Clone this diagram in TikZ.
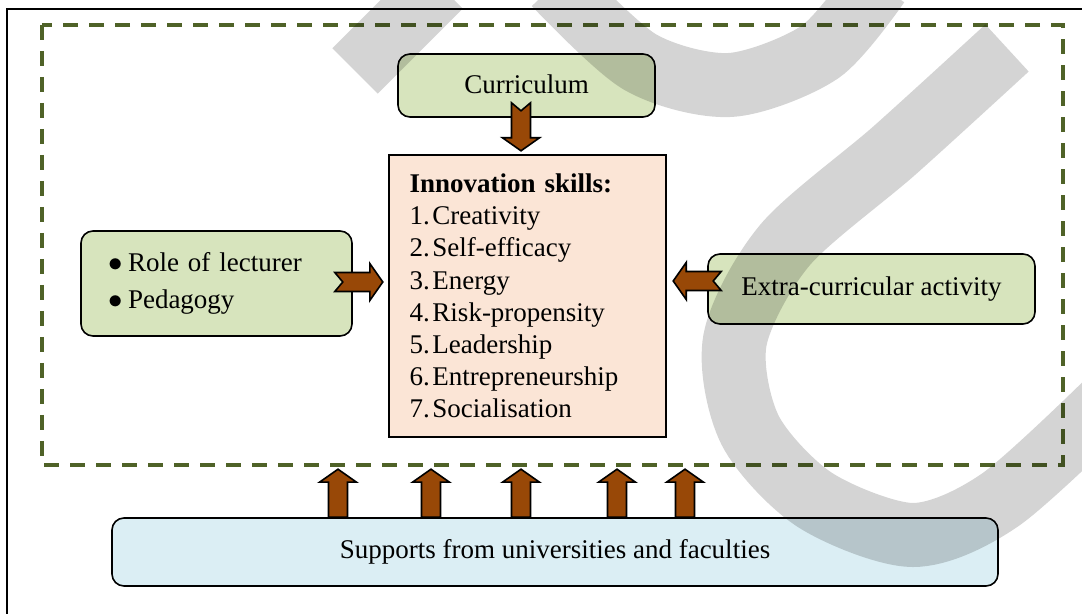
\documentclass[tikz,border=0pt]{standalone}
\usepackage{fontspec}
\setmainfont{Liberation Serif}
\usetikzlibrary{calc,positioning}

\definecolor{boxgreen}{HTML}{D7E4BD}
\definecolor{boxpeach}{HTML}{FBE5D6}
\definecolor{boxblue}{HTML}{DBEEF4}
\definecolor{arrowbrown}{HTML}{984807}
\definecolor{olivedash}{HTML}{4F6228}

% block arrow: [notch depth]{tail point}{direction}
\newcommand{\fatarrow}[3][8]{%
	\draw[fatarrow,shift={#2},rotate=#3]
	(0,-9.5) -- (35,-9.5) -- (35,-18.5) -- (48,0) -- (35,18.5) -- (35,9.5) -- (0,9.5) -- (#1,0) -- cycle;
}

\begin{document}
\begin{tikzpicture}
	[x=0.5pt,y=-0.5pt,font=\fontsize{13.5}{16.1}\selectfont,
	softbox/.style={draw,line width=0.8pt,rounded corners=6pt,fill=boxgreen,inner sep=0pt},
	fatarrow/.style={draw=black,line width=0.8pt,fill=arrowbrown,line join=miter}]
	\useasboundingbox (0,0) rectangle (1082,614);
	\clip (0,0) rectangle (1082,614);
	
	\draw[line width=0.6pt] (7,9) rectangle (1120,650);
	\draw[olivedash,line width=2pt,dash pattern=on 7.5pt off 5.5pt] (42,25) rectangle (1063,465);
	
	\node[softbox,minimum width=128.5pt,minimum height=31.5pt] (curr) at (526.5,85.5) {\raisebox{1.5pt}{Curriculum}};
	\node[draw,line width=0.8pt,fill=boxpeach,minimum width=138.5pt,minimum height=141pt,
		text width=118pt,align=left,inner sep=0pt] (skills) at (527.5,296)
	{\textbf{Innovation skills:}\\
		\makebox[11.5pt][l]{1.}Creativity\\
		\makebox[11.5pt][l]{2.}Self-efficacy\\
		\makebox[11.5pt][l]{3.}Energy\\
		\makebox[11.5pt][l]{4.}Risk-propensity\\
		\makebox[11.5pt][l]{5.}Leadership\\
		\makebox[11.5pt][l]{6.}Entrepreneurship\\
		\makebox[11.5pt][l]{7.}Socialisation};
	\node[softbox,minimum width=135.5pt,minimum height=52.5pt,text width=108.5pt,align=left] (teach) at (216.5,283.5)
	{\makebox[10pt][l]{$\bullet$}Role of lecturer\\[2pt]\makebox[10pt][l]{$\bullet$}Pedagogy\\[-3pt]};
	\node[softbox,minimum width=163.5pt,minimum height=35pt] (extra) at (871.5,289) {Extra-curricular activity};
	\node[softbox,fill=boxblue,minimum width=443pt,minimum height=34pt] (support) at (555,552)
	{\raisebox{1.5pt}{Supports from universities and faculties}};
	
	\fatarrow{($(curr.south)+(-5.5,-15)$)}{-90}
	\fatarrow{($(teach.east)+(-18,-1.5)$)}{0}
	\fatarrow{($(extra.west)+(14,-8)$)}{180}
	\foreach \dx in {-217,-124,-34,62,130}
	{
		\fatarrow[0]{($(support.north)+(\dx,0)$)}{90}
	}
	
	% grey overlay bands
	\begin{scope}[opacity=.17,line width=32pt]
		\draw (355,71) -- (440,-14);
		\draw plot[smooth] coordinates {(555,-16) (640,62) (730,85) (820,52) (878,-16)};
		\draw plot[smooth] coordinates {(1007,48) (895,150) (785,245) (735,340) (750,430) (815,500) (913,535) (1000,500) (1110,400)};
	\end{scope}
\end{tikzpicture}
\end{document}
